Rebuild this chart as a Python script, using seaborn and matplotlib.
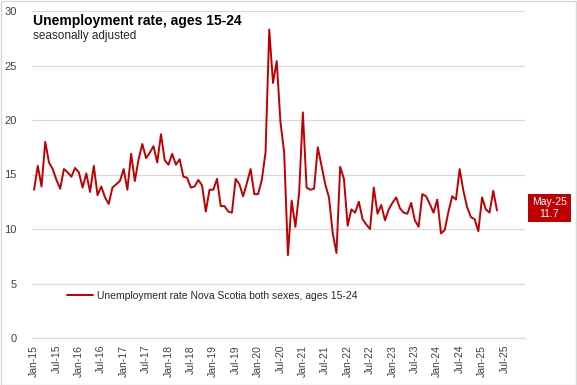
import matplotlib
matplotlib.use("Agg")
import matplotlib.pyplot as plt
import seaborn as sns
import pandas as pd
import numpy as np
from matplotlib.patches import Rectangle

# ---- data ----
start_year = 2015
values = [
    13.6, 15.8, 13.9, 18.0, 16.1, 15.5, 14.5, 13.7, 15.5, 15.2, 14.8, 15.6,   # 2015
    15.2, 13.8, 15.1, 13.4, 15.8, 13.1, 13.9, 12.9, 12.3, 13.8, 14.1, 14.4,   # 2016
    15.5, 13.6, 16.9, 14.4, 16.4, 17.8, 16.5, 17.0, 17.6, 16.1, 18.7, 16.3,   # 2017
    15.9, 16.9, 15.9, 16.4, 14.8, 14.7, 13.8, 13.9, 14.5, 14.0, 11.6, 13.6,   # 2018
    13.6, 14.6, 12.1, 12.1, 11.6, 11.5, 14.6, 14.1, 13.0, 14.2, 15.5, 13.2,   # 2019
    13.2, 14.5, 17.0, 28.3, 23.4, 25.4, 19.8, 17.0, 7.6, 12.6, 10.2, 13.3,    # 2020
    20.7, 13.8, 13.6, 13.7, 17.5, 15.8, 14.1, 12.9, 9.6, 7.8, 15.7, 14.6,     # 2021
    10.3, 11.8, 11.5, 12.5, 10.9, 10.4, 10.0, 13.8, 11.4, 12.2, 10.8, 11.8,   # 2022
    12.4, 12.9, 11.9, 11.5, 11.4, 12.4, 10.8, 10.2, 13.2, 13.0, 12.3, 11.5,   # 2023
    12.7, 9.6, 9.9, 11.6, 13.0, 12.7, 15.5, 13.5, 12.0, 11.1, 10.9, 9.8,      # 2024
    12.9, 11.8, 11.5, 13.5, 11.7,                                             # 2025
]
month_names = ["Jan", "Feb", "Mar", "Apr", "May", "Jun",
               "Jul", "Aug", "Sep", "Oct", "Nov", "Dec"]
n_axis_months = 132  # axis runs Jan-15 .. Dec-25
axis_labels = [f"{month_names[i % 12]}-{(start_year + i // 12) % 100:02d}"
               for i in range(n_axis_months)]
series_name = "Unemployment rate Nova Scotia both sexes, ages 15-24"
title = "Unemployment rate, ages 15-24"
subtitle = "seasonally adjusted"

df = pd.DataFrame({"idx": np.arange(len(values)), "value": values})

# ---- figure ----
sns.set_theme(style="white")
plt.rcParams["font.family"] = ["Liberation Sans", "DejaVu Sans"]

W, H = 577, 385
fig = plt.figure(figsize=(W / 100, H / 100), dpi=100)
fig.patch.set_facecolor("white")
fig.add_artist(Rectangle((0.5 / W, 0.5 / H), 1 - 1.5 / W, 1 - 1.5 / H,
                         transform=fig.transFigure, fill=False,
                         edgecolor="#D9D9D9", linewidth=1))

ax = fig.add_axes([32 / W, 1 - 338 / H, (525 - 32) / W, (338 - 11) / H])
red = "#C00000"
sns.lineplot(data=df, x="idx", y="value", ax=ax, color=red, linewidth=1.4,
             label=series_name)

ax.set_xlim(-0.55, n_axis_months - 0.5)
ax.set_ylim(0, 30)
ax.set_yticks(range(0, 31, 5))
ax.set_xticks(range(0, n_axis_months, 6))
ax.set_xticklabels([axis_labels[i] for i in range(0, n_axis_months, 6)],
                   rotation=90, fontsize=7.5, color="#404040")
ax.tick_params(axis="y", labelsize=8, labelcolor="#404040", length=0, pad=11)
ax.tick_params(axis="x", length=0, pad=5)
ax.set_xlabel("")
ax.set_ylabel("")
ax.grid(axis="y", color="#D9D9D9", linewidth=0.9)
ax.set_axisbelow(True)
for s in ["left", "right", "top"]:
    ax.spines[s].set_visible(False)
ax.spines["bottom"].set_color("#D9D9D9")
ax.spines["bottom"].set_linewidth(0.9)

# title / subtitle
fig.text(33 / W, 1 - 21 / H, title, fontsize=10, fontweight="bold",
         color="black", va="center", ha="left")
fig.text(33 / W, 1 - 36 / H, subtitle, fontsize=8.5, color="#262626",
         va="center", ha="left")

# legend
leg = ax.legend(loc="center left", bbox_to_anchor=(67 / W, 1 - 296 / H),
                bbox_transform=fig.transFigure, frameon=False, fontsize=7.5,
                borderpad=0, borderaxespad=0, handlelength=2.5,
                handletextpad=0.35)
for t in leg.get_texts():
    t.set_color("#262626")

# last value callout
x0, y0, x1, y1 = 528, 194, 571, 222
fig.add_artist(Rectangle((x0 / W, 1 - y1 / H), (x1 - x0) / W, (y1 - y0) / H,
                         transform=fig.transFigure, facecolor=red,
                         edgecolor="none"))
fig.text((x0 + x1) / 2 / W, 1 - (y0 + y1) / 2 / H,
         f"{axis_labels[len(values) - 1]}\n{values[-1]}",
         color="white", fontsize=7.5, ha="center", va="center",
         linespacing=1.3)

fig.savefig("out.png", dpi=100)
